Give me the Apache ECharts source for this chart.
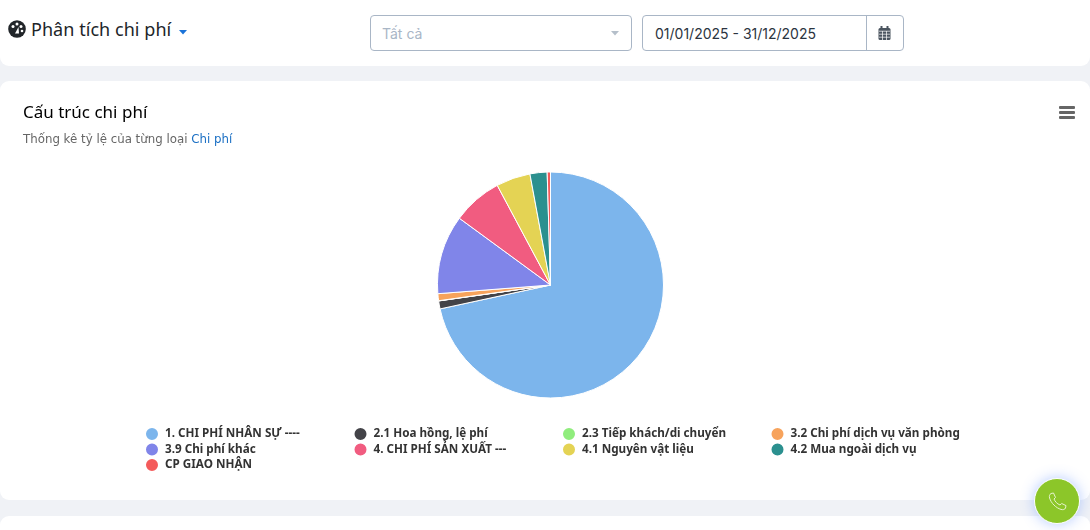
<!DOCTYPE html>
<html>
<head>
<meta charset="utf-8">
<title>Phân tích chi phí</title>
<script src="https://cdn.jsdelivr.net/npm/echarts@6/dist/echarts.min.js"></script>
<style>
html, body { margin: 0; padding: 0; width: 1090px; height: 530px; overflow: hidden; background: #f0f2f6; font-family: "Noto Sans", sans-serif; }
.card { position: absolute; left: 0; width: 1090px; background: #fff; border-radius: 9px; }
#top { top: -10px; height: 76px; }
#main { top: 81px; height: 419px; }
#next { top: 516px; height: 40px; }
#chart { width: 1090px; height: 419px; }
.abs { position: absolute; }
#page-title { left: 31px; top: 16px; font-size: 18px; color: #212529; line-height: 26px; letter-spacing: .05px; }
.box { border: 1px solid #a9b6c6; border-radius: 4px; height: 36px; box-sizing: border-box; top: 15px; font-family: Inter, sans-serif; font-size: 14px; line-height: 35px; }
#menu div { position: absolute; left: 0; width: 16px; height: 3px; background: #666; border-radius: 1px; }
#phone { left: 1034px; top: 478px; width: 46px; height: 46px; border-radius: 50%; background: #8cc629; border: 1px solid #fff; box-sizing: border-box; box-shadow: 0 0 14px rgba(90,140,255,.45); }
</style>
</head>
<body>
<div class="card" id="top"></div>
<div class="card" id="main"><div id="chart"></div></div>
<div class="card" id="next"></div>

<svg class="abs" style="left:8px;top:20px" width="18" height="18" viewBox="0 0 18 18">
  <circle cx="9" cy="9" r="8.8" fill="#212529"/>
  <circle cx="5" cy="6.5" r="1.5" fill="#fff"/><circle cx="9" cy="4" r="1.5" fill="#fff"/>
  <circle cx="13" cy="6.5" r="1.5" fill="#fff"/><circle cx="14" cy="11" r="1.3" fill="#fff"/>
  <path d="M7 13.5 L10.5 7 L11 13.5 Z" fill="#fff"/>
</svg>
<div class="abs" id="page-title">Phân tích chi phí</div>
<svg class="abs" style="left:179px;top:30px" width="9" height="5"><path d="M0 0 H8 L4 4.5 Z" fill="#1a73d9"/></svg>

<div class="abs box" style="left:370px;width:262px;padding-left:11px;color:#a9b6c6">Tất cả</div>
<svg class="abs" style="left:611px;top:31px" width="9" height="5"><path d="M0 0 H8 L4 4.5 Z" fill="#b5bfca"/></svg>
<div class="abs box" style="left:642px;width:262px;padding-left:12px;color:#2b3440">01/01/2025 - 31/12/2025</div>
<div class="abs" style="left:866px;top:15px;width:1px;height:36px;background:#a9b6c6"></div>
<svg class="abs" style="left:878px;top:26px" width="13" height="14" viewBox="0 0 13 14">
  <rect x="0.5" y="2" width="12" height="12" rx="1.5" fill="#4a545f"/>
  <rect x="2.5" y="0" width="2" height="3" fill="#4a545f"/><rect x="8.5" y="0" width="2" height="3" fill="#4a545f"/>
  <path d="M1 5.2H12M1 8.2H12M1 11.2H12M4.5 5V14M8.5 5V14" stroke="#fff" stroke-width=".7"/>
</svg>

<div class="abs" id="menu" style="left:1059px;top:106px;width:16px;height:14px">
  <div style="top:0"></div><div style="top:5px"></div><div style="top:10px"></div>
</div>

<div class="abs" id="phone">
  <svg style="position:absolute;left:13px;top:13px" width="19" height="19" viewBox="0 0 19 19">
    <path d="M3 1.5 L5.5 1 L7.5 5.5 L6 7 C7 9.5 9 11.8 12 13 L13.7 11.5 L18 13.6 L17.5 16 C16.8 17.6 15 18 13 17.4 C8 16 3 11 1.6 6 C1 4 1.6 2.4 3 1.5 Z" fill="none" stroke="#e6f3cc" stroke-width="1"/>
  </svg>
</div>

<script>
const categories = [
	'1. CHI PHÍ NHÂN SỰ ----',
	'2.1 Hoa hồng, lệ phí',
	'2.3 Tiếp khách/di chuyển',
	'3.2 Chi phí dịch vụ văn phòng',
	'3.9 Chi phí khác',
	'4. CHI PHÍ SẢN XUẤT ---',
	'4.1 Nguyên vật liệu',
	'4.2 Mua ngoài dịch vụ',
	'CP GIAO NHẬN'
];
const shares = [71.7, 1.14, 0.03, 1.0, 11.3, 7.14, 4.9, 2.45, 0.47];
const colors = ['#7cb5ec', '#434348', '#90ed7d', '#f7a35c', '#8085e9', '#f15c80', '#e4d354', '#2b908f', '#f45b5b'];

// one vertical legend per column, the rows are read down each of them
const legendLeft = [144, 352.5, 561, 769.5];
const legendColumns = [
	[categories[0], categories[4], categories[8]],
	[categories[1], categories[5]],
	[categories[2], categories[6]],
	[categories[3], categories[7]]
];

const chart = echarts.init(document.getElementById('chart'));

chart.setOption({
	animation: false,
	color: colors,
	title: {
		text: 'Cấu trúc chi phí',
		left: 23,
		top: 24,
		padding: 0,
		textStyle: { fontFamily: 'Noto Sans', fontSize: 17, fontWeight: 'normal', color: '#000' }
	},
	graphic: [
		{
			type: 'text',
			left: 23,
			top: 53,
			style: {
				text: '{g|Thống kê tỷ lệ của từng loại }{b|Chi phí}',
				rich: {
					g: { fontFamily: 'DejaVu Sans', fontSize: 11.8, fill: '#666', fontWeight: 'normal' },
					b: { fontFamily: 'DejaVu Sans', fontSize: 11.8, fill: '#1a6fc4', fontWeight: 'normal' }
				}
			}
		}
	],
	legend: legendColumns.map((col, i) => ({
		orient: 'vertical',
		left: legendLeft[i],
		top: 345,
		padding: 0,
		itemWidth: 14,
		itemHeight: 14,
		itemGap: -0.5,
		icon: 'circle',
		selectedMode: false,
		data: col,
		textStyle: { fontFamily: 'Noto Sans', fontSize: 11.7, fontWeight: 700, color: '#333', lineHeight: 14, padding: [0, 0, 0, 1] }
	})),
	series: [
		{
			type: 'pie',
			center: [550.5, 204],
			radius: [0, 113],
			startAngle: 90,
			clockwise: true,
			label: { show: false },
			labelLine: { show: false },
			itemStyle: { borderColor: '#fff', borderWidth: 1 },
			data: categories.map((name, i) => ({ name: name, value: shares[i] }))
		}
	]
});
</script>
</body>
</html>
